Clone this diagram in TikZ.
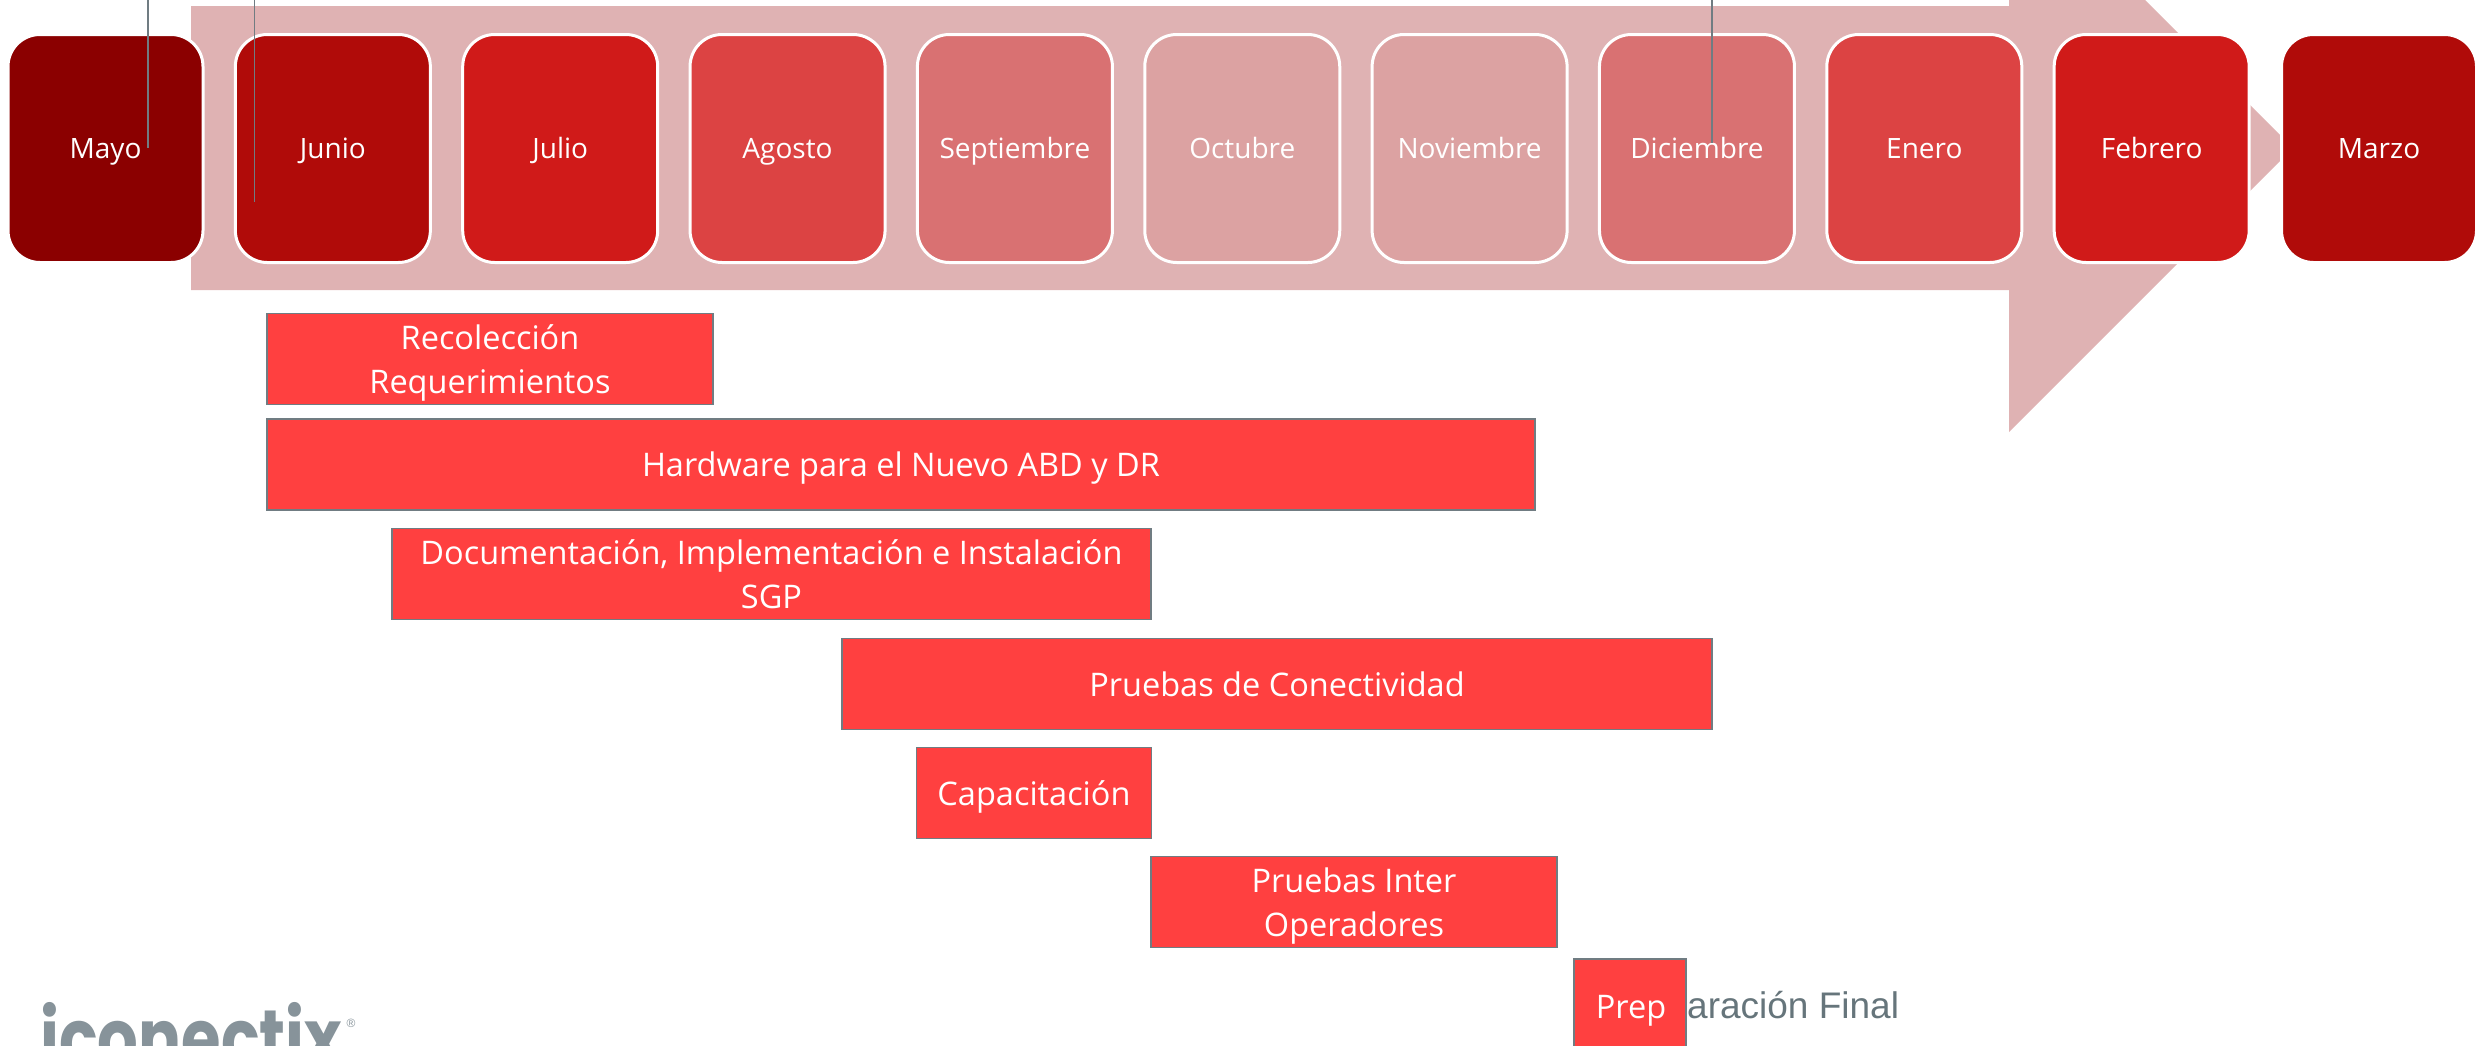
\documentclass[tikz,border=0pt]{standalone}
\usepackage{fontspec}
\setmainfont{Open Sans}
\newfontfamily\arialfont{Liberation Sans}
\newfontfamily\logofont{Poppins}
\definecolor{arrowc}{HTML}{DFB2B3}
\definecolor{m1}{HTML}{8B0000}
\definecolor{m2}{HTML}{B00B09}
\definecolor{m3}{HTML}{D01A19}
\definecolor{m4}{HTML}{DC4343}
\definecolor{m5}{HTML}{D97172}
\definecolor{m6}{HTML}{DCA2A2}
\definecolor{barc}{HTML}{FF4040}
\definecolor{barline}{HTML}{707C82}
\definecolor{logoc}{HTML}{87939A}
\definecolor{greyt}{HTML}{66757B}
\newcommand\bstrut{\rule[-9pt]{0pt}{42pt}}
\tikzset{
  monthbox/.style={draw=white,line width=3pt,rounded corners=32pt,minimum width=195pt,minimum height=228pt,inner sep=0pt,outer sep=0pt,text=white,text height=25pt,text depth=6pt,font=\fontsize{28}{30}\selectfont},
  barbox/.style={draw=barline,line width=1.2pt,fill=barc,inner sep=0pt,outer sep=0pt,text=white,align=center,font=\fontsize{32.5}{44}\selectfont},
  guide/.style={draw=barline,line width=1.3pt}
}
\begin{document}
\begin{tikzpicture}[x=1pt,y=-1pt]
\useasboundingbox (0,0) rectangle (2483,1045);
\clip (0,0) rectangle (2483,1045);
% big arrow
\fill[arrowc] (191,6) -- (2009,6) -- (2009,-136) -- (2293,148) -- (2009,432) -- (2009,290) -- (191,290) -- cycle;
% months
\foreach \nm/\txt/\col/\i in {a/Mayo/m1/0,b/Junio/m2/1,c/Julio/m3/2,d/Agosto/m4/3,e/Septiembre/m5/4,f/Octubre/m6/5,g/Noviembre/m6/6,h/Diciembre/m5/7,j/Enero/m4/8,k/Febrero/m3/9,l/Marzo/m2/10}{
  \node[monthbox,fill=\col] (\nm) at ({105.5+227.35*\i},148.5) {\txt};
}
% guide lines
\coordinate (g1a) at (148,0); \coordinate (g1b) at (148,148);
\coordinate (g2a) at (254.5,0); \coordinate (g2b) at (254.5,202);
\coordinate (g3a) at (1712,0); \coordinate (g3b) at (1712,143);
\draw[guide] (g1a) -- (g1b);
\draw[guide] (g2a) -- (g2b);
\draw[guide] (g3a) -- (g3b);
% bars
\node[barbox,minimum width=446pt,minimum height=91pt] (r) at (490,359) {\bstrut Recolección\\\bstrut Requerimientos};
\node[barbox,minimum width=1268pt,minimum height=91pt] (hw) at (901,464.5) {\bstrut Hardware para el Nuevo ABD y DR};
\node[barbox,minimum width=759pt,minimum height=91pt] (doc) at (771.5,574) {\bstrut Documentación, Implementación e Instalación\\\bstrut SGP};
\node[barbox,minimum width=870pt,minimum height=91pt] (pc) at (1277,684) {\bstrut Pruebas de Conectividad};
\node[barbox,minimum width=235pt,minimum height=91pt] (cap) at (1034,793) {\bstrut Capacitación};
\node[barbox,minimum width=406pt,minimum height=91pt] (po) at (1354,902) {\bstrut Pruebas Inter\\\bstrut Operadores};
\node[text=greyt,anchor=base west,inner sep=0pt,font=\arialfont\fontsize{37}{40}\selectfont] (pf) at (1687,1018) {aración Final};
\node[barbox,minimum width=112pt,minimum height=120pt] (prep) at (1630,1019) {};
\node[text=white,inner sep=0pt,anchor=base,font=\fontsize{32.5}{32}\selectfont] (pt) at (1631,1018) {Prep};
% logo
\node[text=logoc,anchor=base west,inner sep=0pt,font=\logofont\bfseries\fontsize{80}{80}\selectfont] (logo) at (40,1066) {\scalebox{0.8}[1]{iconectix}};
\node[text=logoc,anchor=center,inner sep=0pt,font=\arialfont\fontsize{12}{12}\selectfont] (reg) at (351,1023) {®};
\end{tikzpicture}
\end{document}
